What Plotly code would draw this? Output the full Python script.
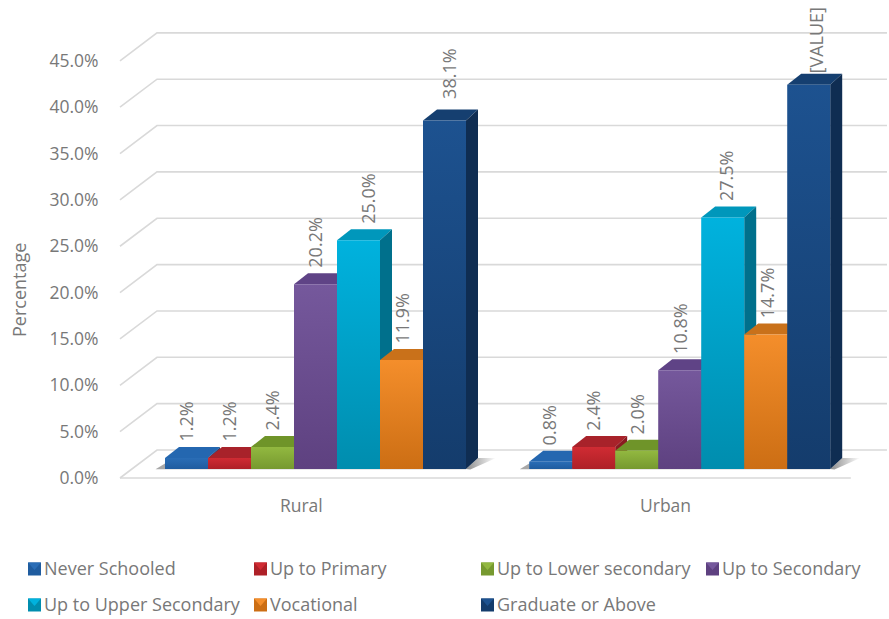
import plotly.graph_objects as go

# Survey data: share of respondents by education level, per area
areas = ["Rural", "Urban"]
levels = ["Never Schooled", "Up to Primary", "Up to Lower secondary", "Up to Secondary",
          "Up to Upper Secondary", "Vocational", "Graduate or Above"]
rural_values = [1.2, 1.2, 2.4, 20.2, 25.0, 11.9, 38.1]
urban_values = [0.8, 2.4, 2.0, 10.8, 27.5, 14.7, 42.0]
rural_labels = ["1.2%", "1.2%", "2.4%", "20.2%", "25.0%", "11.9%", "38.1%"]
urban_labels = ["0.8%", "2.4%", "2.0%", "10.8%", "27.5%", "14.7%", "[VALUE]"]
tick_values = [0, 5, 10, 15, 20, 25, 30, 35, 40, 45]
tick_labels = ["0.0%", "5.0%", "10.0%", "15.0%", "20.0%", "25.0%", "30.0%", "35.0%", "40.0%", "45.0%"]

# Face colours per level: front top, front bottom, side, top
palette = [
    ("#2A6DB6", "#1F5C9F", "#174A80", "#2467B0"),
    ("#D02B33", "#AE2027", "#8A1A20", "#A8222A"),
    ("#92B840", "#76992F", "#5C7A24", "#6F9429"),
    ("#75589C", "#5E4180", "#4A3266", "#5F4386"),
    ("#00B2DE", "#008DAE", "#00708C", "#0097BB"),
    ("#F48E2B", "#CC6E14", "#A65810", "#C9711A"),
    ("#1D5290", "#143C6C", "#0F2D52", "#153F70"),
]
label_nudge_x = [[0, 0, 0, 0, 10, 1, 5], [-2, -1, 0, 0, 4, 1, 7]]
label_nudge_y = [[0, 0, 0, 0, 0, 0, 5], [0, 0, 0, 0, 0, 0, -5]]

# Page and plot frame
W, H = 889, 619
plot_left, plot_bottom = 104, 479

# Horizontal unit is one bar; bar 0 of the first group starts 61 px inside the plot
px_per_bar = 43.0
x_min = (plot_left - 165) / px_per_bar
x_max = (W - 165) / px_per_bar
group_starts = [0.0, 8.47]
group_label_offset = 3.17

# Scale of the tick axis and of the plane the bars stand on
tick_px = 9.27
bar_px = 9.15
bar_base_px = 469

# Extrusion of the boxes and of the chart floor
depth_x, depth_x_left, depth_y = 12 / px_per_bar, 14 / px_per_bar, 11 / bar_px
grid_tip, grid_back, grid_end = -1.047, -0.186, 16.79
floor_end = 15.95
grid_rise = 28 / tick_px
grid_color = "#D9D9D9"
text_color = "#787878"
font_family = "Open Sans"

fig = go.Figure()


def polygon(xs, ys, axis, **style):
    fig.add_trace(go.Scatter(x=xs, y=ys, yaxis=axis, mode="lines", fill="toself",
                             line=dict(width=0), hoverinfo="skip", showlegend=False, **style))


# Wall and floor lines
for v in tick_values:
    fig.add_trace(go.Scatter(
        x=[grid_tip, grid_back, grid_end], y=[v, v + grid_rise, v + grid_rise], mode="lines",
        line=dict(color=grid_color, width=1.6), hoverinfo="skip", showlegend=False))
fig.add_trace(go.Scatter(
    x=[grid_tip, floor_end], y=[0, 0], mode="lines",
    line=dict(color=grid_color, width=1.6), hoverinfo="skip", showlegend=False))

annotations = []
for g, (start, values, labels) in enumerate(zip(group_starts, [rural_values, urban_values],
                                                [rural_labels, urban_labels])):
    right_end = start + len(values)
    # Soft floor shadow behind the group
    polygon([right_end, right_end + depth_x, right_end + depth_x + 0.42, right_end + 0.1],
            [0, depth_y, depth_y, -0.05], "y2",
            fillgradient=dict(type="horizontal", colorscale=[[0, "#8C8C8C"], [1, "#FFFFFF"]]))
    polygon([start - 0.22, start, right_end, right_end],
            [-0.02, depth_y * 0.5, depth_y * 0.5, -0.02], "y2", fillcolor="#A8A8A8")

    for i, v in enumerate(values):
        left, right = start + i, start + i + 1
        front_top, front_bottom, side, top = palette[i]
        polygon([left, left + depth_x_left, right + depth_x, right],
                [v, v + depth_y, v + depth_y, v], "y2", fillcolor=top)
        polygon([right, right + depth_x, right + depth_x, right],
                [0, depth_y, v + depth_y, v], "y2", fillcolor=side)
        polygon([left, right, right, left], [0, 0, v, v], "y2",
                fillgradient=dict(type="vertical",
                                  colorscale=[[0, front_bottom], [1, front_top]]))
        annotations.append(dict(
            x=left + 0.5, y=v, xref="x", yref="y2", text=labels[i], textangle=-90, showarrow=False,
            xanchor="center", yanchor="bottom", xshift=label_nudge_x[g][i],
            yshift=14 + label_nudge_y[g][i],
            font=dict(family=font_family, size=18, color=text_color)))

# Paper-coordinate helpers for the key and the axis caption
def paper_x(px):
    return (px - plot_left) / (W - plot_left)


def paper_y(py):
    return 1 - py / plot_bottom


annotations.append(dict(
    x=paper_x(19), y=paper_y(290), xref="paper", yref="paper", text="Percentage", textangle=-90,
    showarrow=False, xanchor="center", yanchor="middle",
    font=dict(family=font_family, size=18, color=text_color)))

# Key: four columns, wrapping after the fourth entry
key_columns = [28, 254, 481, 706]
key_rows = [569, 605]
key_size = 13
shapes = []
for n, name in enumerate(levels):
    kx = key_columns[n % 4]
    ky = key_rows[n // 4]
    front_top, front_bottom, side, top = palette[n]
    x0, x1 = paper_x(kx), paper_x(kx + key_size)
    y0, y1 = paper_y(ky + key_size / 2), paper_y(ky - key_size / 2)
    shapes.append(dict(type="rect", xref="paper", yref="paper", x0=x0, x1=x1, y0=y0, y1=y1,
                       fillcolor=front_bottom, line=dict(width=0)))
    xm, ym = paper_x(kx + key_size / 2), paper_y(ky + 1)
    shapes.append(dict(type="path", xref="paper", yref="paper",
                       path=f"M {x0} {y1} L {x1} {y1} L {xm} {ym} Z",
                       fillcolor=front_top, line=dict(width=0)))
    annotations.append(dict(
        x=paper_x(kx + 14), y=paper_y(ky - 1), xref="paper", yref="paper", text=name, showarrow=False,
        xanchor="left", yanchor="middle", font=dict(family=font_family, size=18, color=text_color)))

fig.update_layout(
    width=W, height=H,
    margin=dict(l=plot_left, r=0, t=0, b=H - plot_bottom, pad=0),
    paper_bgcolor="white", plot_bgcolor="white",
    showlegend=False,
    annotations=annotations, shapes=shapes,
    xaxis=dict(
        range=[x_min, x_max], showgrid=False, zeroline=False, showline=False,
        tickmode="array", tickvals=[s + group_label_offset for s in group_starts], ticktext=areas,
        ticks="outside", ticklen=11, tickcolor="rgba(0,0,0,0)",
        tickfont=dict(family=font_family, size=17.5, color=text_color)),
    yaxis=dict(
        range=[(478 - plot_bottom) / tick_px, 478 / tick_px], showgrid=False, zeroline=False,
        showline=False, tickmode="array", tickvals=tick_values, ticktext=tick_labels,
        ticks="outside", ticklen=1, tickcolor="rgba(0,0,0,0)",
        tickfont=dict(family=font_family, size=17.5, color=text_color)),
    yaxis2=dict(
        range=[(bar_base_px - plot_bottom) / bar_px, bar_base_px / bar_px], overlaying="y",
        visible=False),
)

fig.write_html("out.html")
